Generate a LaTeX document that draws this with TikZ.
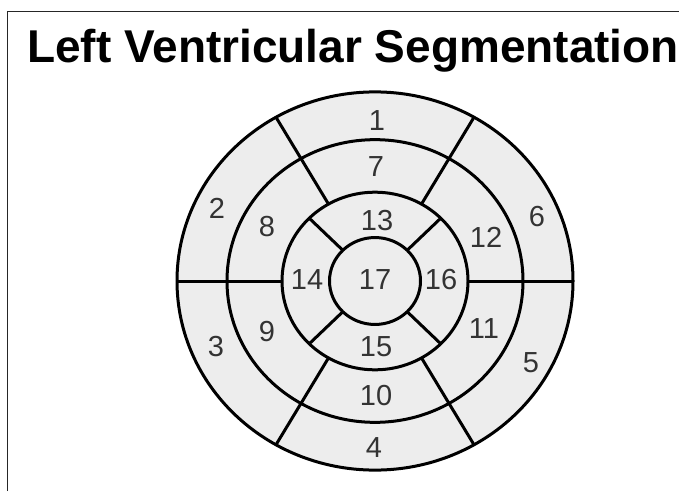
\documentclass[tikz,border=0pt]{standalone}
\usepackage{fontspec}
\setmainfont{Liberation Sans}
\usepackage{tikz}

\begin{document}
\begin{tikzpicture}[
  x=1pt, y=1pt,
  ring/.style   ={draw=black, line width=3pt},
  divider/.style={draw=black, line width=3pt},
  seg/.style    ={inner sep=0pt, text=black!80, font=\fontsize{29}{29}\selectfont}
]
\useasboundingbox (0,0) rectangle (679,491);

% ---------- frame and title ----------
\draw[line width=1.8pt, black!85] (7.5,0) |- (679,479.5);
\node[anchor=base west, inner sep=0pt, font=\fontsize{46}{46}\bfseries\selectfont]
  (title) at (27,428) {Left Ventricular Segmentation};

% ---------- bull's eye ----------
\coordinate (c) at (375,210);
\begin{scope}[shift={(c)}, yscale=0.955]
  \fill[gray!14] (0,0) circle (198);
  \foreach \r in {198,148,93,45.5}
    \draw[ring] (0,0) circle (\r);
  \foreach \a in {0,60,...,300}
    \draw[divider] (\a:93) -- (\a:198);
  \foreach \a in {45,135,225,315}
    \draw[divider] (\a:45.5) -- (\a:93);
\end{scope}

% ---------- segment numbers ----------
\node[seg] (s1)  at (377,370) {1};
\node[seg] (s2)  at (217,283) {2};
\node[seg] (s3)  at (216,144) {3};
\node[seg] (s4)  at (374,43)  {4};
\node[seg] (s5)  at (531,128) {5};
\node[seg] (s6)  at (537,274) {6};
\node[seg] (s7)  at (376,324) {7};
\node[seg] (s8)  at (267,264) {8};
\node[seg] (s9)  at (267,159) {9};
\node[seg] (s10) at (376,95)  {10};
\node[seg] (s11) at (484,162) {11};
\node[seg] (s12) at (486,254) {12};
\node[seg] (s13) at (377,270) {13};
\node[seg] (s14) at (307,211) {14};
\node[seg] (s15) at (376,144) {15};
\node[seg] (s16) at (441,211) {16};
\node[seg] (s17) at (375,211) {17};

\end{tikzpicture}
\end{document}
